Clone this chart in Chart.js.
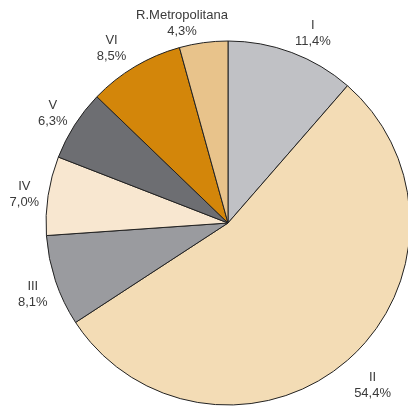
<!DOCTYPE html>
<html lang="es">
<head>
    <meta charset="UTF-8">
    <title>Distribución por región</title>
    <script src="https://cdn.jsdelivr.net/npm/chart.js"></script>
    <style>
        html, body { margin: 0; padding: 0; background: #fff; overflow: hidden; }
        #grafico { display: block; }
    </style>
</head>
<body>
    <canvas id="grafico" width="456" height="409"></canvas>

    <script>
        // Datos del gráfico
        const regiones = ['I', 'II', 'III', 'IV', 'V', 'VI', 'R.Metropolitana'];
        const porcentajes = [11.4, 54.4, 8.1, 7.0, 6.3, 8.5, 4.3];
        const colores = ['#c0c1c5', '#f3dcb5', '#9a9b9f', '#f8e7d0', '#6d6e72', '#d3860a', '#e8c38b'];

        // Pequeños ajustes (px) de la posición de cada etiqueta
        const ajusteX = [12, 8, 2, 2, 0, -10, -18];
        const ajusteY = [5, 6, 5, 3, 2, 4, 7];

        // Etiquetas fuera de cada porción: nombre y porcentaje
        const etiquetasExternas = {
            id: 'etiquetasExternas',
            afterDatasetsDraw(chart) {
                const ctx = chart.ctx;
                const arcos = chart.getDatasetMeta(0).data;
                ctx.save();
                ctx.font = '13px "Liberation Sans", Arial, sans-serif';
                ctx.fillStyle = '#3a3a3a';
                ctx.textAlign = 'center';
                ctx.textBaseline = 'middle';
                arcos.forEach((arco, i) => {
                    const medio = (arco.startAngle + arco.endAngle) / 2;
                    const dist = arco.outerRadius + 26;
                    const x = arco.x + Math.cos(medio) * dist + ajusteX[i];
                    const y = arco.y + Math.sin(medio) * dist + ajusteY[i];
                    ctx.fillText(regiones[i], x, y - 8);
                    ctx.fillText(porcentajes[i].toFixed(1).replace('.', ',') + '%', x, y + 8);
                });
                ctx.restore();
            }
        };

        new Chart(document.getElementById('grafico'), {
            type: 'pie',
            data: {
                labels: regiones,
                datasets: [{
                    data: porcentajes,
                    backgroundColor: colores,
                    borderColor: '#222',
                    borderWidth: 1,
                    radius: 182
                }]
            },
            options: {
                responsive: false,
                animation: false,
                layout: { padding: { top: 37, bottom: 0, left: 0, right: 0 } },
                plugins: {
                    legend: { display: false },
                    tooltip: { enabled: false }
                }
            },
            plugins: [etiquetasExternas]
        });
    </script>
</body>
</html>
